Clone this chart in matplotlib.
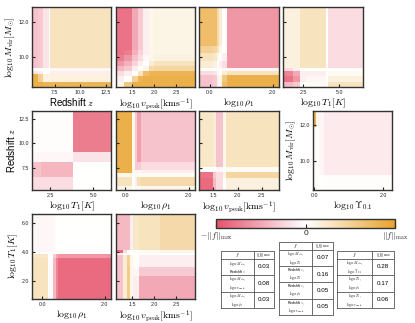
import numpy as np
import matplotlib
matplotlib.use("Agg")
import matplotlib.pyplot as plt
from matplotlib.colors import LinearSegmentedColormap
from matplotlib.ticker import FormatStrFormatter
import matplotlib.cm as cm

plt.rcParams['font.family'] = ['Liberation Sans', 'DejaVu Sans']
plt.rcParams['mathtext.fontset'] = 'cm'

# ---------------- data (normalised interaction strength, -1..1) ----------------
# Row 1: log10 Mvir vs Redshift z
mz_x = [5.3, 5.9, 6.4, 7.0, 7.1, 13.0]
mz_y = [8.3, 8.6, 9.05, 9.2, 9.4, 12.83]
mz_z = [[0.85, 0.85, 0.8, 0.8, 0.8],
        [0.85, 0.5, 0.15, 0.1, 0.15],
        [-0.15, -0.1, 0.0, 0.0, -0.1],
        [0.0, 0.0, 0.0, 0.0, -0.05],
        [-0.35, -0.3, -0.15, 0.0, 0.3]]

# log10 Mvir vs log10 vpeak
mv_x = [1.12, 1.3, 1.5, 1.62, 1.75, 1.87, 2.0, 2.94]
mv_y = [8.3, 8.6, 8.9, 9.2, 9.5, 9.8, 10.1, 10.4, 12.83]
mv_z = [[0.1, 0.6, 0.85, 0.85, 0.85, 0.85, 0.85],
        [-0.1, 0.0, 0.5, 0.8, 0.85, 0.85, 0.85],
        [-0.2, -0.1, 0.0, 0.3, 0.7, 0.8, 0.8],
        [-0.4, -0.3, -0.1, 0.0, 0.1, 0.4, 0.45],
        [-0.6, -0.45, -0.25, -0.1, 0.0, 0.2, 0.3],
        [-0.75, -0.6, -0.35, -0.2, -0.05, 0.1, 0.15],
        [-0.8, -0.75, -0.45, -0.25, -0.1, 0.1, 0.12],
        [-0.8, -0.8, -0.5, -0.3, -0.1, 0.1, 0.12]]

# log10 Mvir vs log10 rho1
mr_x = [-0.35, 0.1, 0.22, 0.3, 0.38, 0.53, 2.2]
mr_y = [8.3, 8.6, 9.0, 9.2, 9.4, 9.8, 10.2, 10.6, 12.83]
mr_z = [[-0.35, -0.3, -0.1, 0.1, 0.7, 0.85],
        [-0.35, -0.3, -0.1, 0.1, 0.6, 0.85],
        [-0.2, -0.15, -0.05, 0.0, 0.2, 0.3],
        [0.0, 0.0, -0.05, 0.0, -0.05, -0.05],
        [0.2, 0.15, 0.0, -0.1, -0.2, -0.6],
        [0.3, 0.25, 0.1, 0.0, -0.1, -0.6],
        [0.5, 0.45, 0.3, 0.1, 0.0, -0.6],
        [0.7, 0.7, 0.4, 0.2, 0.0, -0.6]]

# log10 Mvir vs log10 T1
mt_x = [1.1, 1.8, 2.27, 2.7, 4.1, 4.2, 6.65]
mt_y = [8.3, 8.6, 8.9, 9.2, 9.4, 12.83]
mt_z = [[-0.4, -0.3, 0.0, 0.05, 0.0, 0.3],
        [-0.8, -0.6, -0.1, -0.05, 0.0, 0.15],
        [-0.7, -0.5, -0.1, -0.1, 0.0, 0.05],
        [-0.2, -0.1, 0.0, 0.0, 0.0, 0.0],
        [0.15, 0.15, 0.3, 0.3, 0.0, -0.2]]

# Row 2: Redshift z vs log10 T1
zt_x = [1.46, 2.0, 3.81, 6.02]
zt_y = [5.2, 6.5, 8.1, 9.1, 13.3]
zt_z = [[-0.2, -0.2, 0.0],
        [-0.35, -0.42, 0.0],
        [-0.05, -0.05, -0.15],
        [-0.02, -0.02, -0.75]]

# Redshift z vs log10 rho1
zr_x = [-0.3, 0.21, 0.3, 0.37, 0.5, 2.2]
zr_y = [5.2, 5.6, 6.5, 6.9, 7.2, 8.1, 13.3]
zr_z = [[0.1, 0.0, -0.05, 0.05, 0.1],
        [0.3, 0.0, -0.1, 0.35, 0.4],
        [0.1, 0.0, -0.05, 0.05, 0.05],
        [0.85, 0.1, -0.05, -0.05, -0.1],
        [0.85, 0.1, -0.3, -0.3, -0.2],
        [0.85, 0.1, -0.3, -0.55, -0.35]]

# Redshift z vs log10 vpeak
zv_x = [1.2, 1.5, 1.55, 1.7, 1.75, 2.86]
zv_y = [5.2, 6.4, 7.06, 7.57, 13.3]
zv_z = [[-0.85, -0.4, -0.2, 0.0, 0.15],
        [-0.8, -0.3, -0.2, 0.1, 0.45],
        [0.0, 0.0, -0.05, 0.0, 0.05],
        [0.25, 0.2, -0.35, 0.1, 0.3]]

# log10 Mvir vs log10 Upsilon_0.1
mu_x = [-0.03, 0.06, 0.15, 0.3, 2.25]
mu_y = [8.36, 9.2, 11.9, 12.78]
mu_z = [[0.05, 0.02, 0.0, 0.02],
        [0.05, 0.0, -0.05, -0.12],
        [0.8, 0.1, -0.05, -0.12]]

# Row 3: log10 T1 vs log10 rho1
tr_x = [-0.33, 0.19, 0.35, 0.43, 0.51, 2.2]
tr_y = [0.78, 3.6, 3.88, 4.04, 6.64]
tr_z = [[0.3, 0.0, -0.4, -0.7, -0.85],
        [0.25, 0.0, -0.3, -0.5, -0.6],
        [0.0, 0.0, 0.0, 0.0, 0.0],
        [-0.05, -0.05, -0.03, 0.0, 0.0]]

# log10 T1 vs log10 vpeak
tv_x = [1.12, 1.29, 1.37, 1.45, 1.52, 1.64, 2.14, 2.94]
tv_y = [0.78, 2.4, 3.0, 3.8, 3.95, 4.15, 6.64]
tv_z = [[-0.35, 0.2, 0.55, 0.1, -0.1, -0.5, -0.5],
        [-0.35, 0.2, 0.55, 0.1, -0.05, -0.3, -0.3],
        [-0.35, 0.2, 0.5, 0.1, 0.0, -0.1, -0.1],
        [-0.1, 0.0, 0.0, 0.0, 0.0, 0.0, 0.0],
        [-0.85, -0.2, 0.0, 0.0, 0.0, 0.05, 0.1],
        [-0.4, -0.4, -0.4, -0.1, 0.25, 0.3, 0.4]]

# tables
tab1_f = [r"$\log_{10}M_{\rm vir}$," + "\nRedshift $z$",
          r"$\log_{10}M_{\rm vir}$," + "\n" + r"$\log_{10}v_{\rm peak}$",
          r"$\log_{10}M_{\rm vir}$," + "\n" + r"$\log_{10}\rho_1$"]
tab1_v = ["0.03", "0.08", "0.03"]
tab2_f = [r"$\log_{10}M_{\rm vir}$," + "\n" + r"$\log_{10}T_1$",
          "Redshift $z$,\n" + r"$\log_{10}T_1$",
          "Redshift $z$,\n" + r"$\log_{10}\rho_1$",
          "Redshift $z$,\n" + r"$\log_{10}v_{\rm peak}$"]
tab2_v = ["0.07", "0.16", "0.05", "0.05"]
tab3_f = [r"$\log_{10}M_{\rm vir}$," + "\n" + r"$\log_{10}\Upsilon_{0.1}$",
          r"$\log_{10}T_1$," + "\n" + r"$\log_{10}\rho_1$",
          r"$\log_{10}T_1$," + "\n" + r"$\log_{10}v_{\rm peak}$"]
tab3_v = ["0.28", "0.17", "0.06"]

# labels
L_M = r"$\log_{10}M_{\rm vir}[M_{\odot}]$"
L_Z = "Redshift $z$"
L_V = r"$\log_{10}v_{\rm peak}[{\rm kms}^{-1}]$"
L_R = r"$\log_{10}\rho_1$"
L_T = r"$\log_{10}T_1[K]$"
L_U = r"$\log_{10}\Upsilon_{0.1}$"

# ---------------- figure ----------------
W, H = 415, 323
fig = plt.figure(figsize=(W / 100, H / 100), dpi=100)
cmap = LinearSegmentedColormap.from_list("pw", ["#e6516a", "#ffffff", "#e9a22c"])


def px_axes(x0, y0, x1, y1):
    return fig.add_axes([x0 / W, 1 - y1 / H, (x1 - x0) / W, (y1 - y0) / H])


def panel(box, xe, ye, z, xt, yt, xl, yl=None, ylab=False):
    ax = px_axes(*box)
    ax.pcolormesh(xe, ye, np.array(z), cmap=cmap, vmin=-1, vmax=1,
                  shading='flat', edgecolors='none', antialiased=False)
    ax.set_xlim(xe[0], xe[-1])
    ax.set_ylim(ye[0], ye[-1])
    ax.set_xticks(xt)
    ax.set_yticks(yt)
    ax.xaxis.set_major_formatter(FormatStrFormatter('%.1f'))
    ax.yaxis.set_major_formatter(FormatStrFormatter('%.1f'))
    ax.tick_params(direction='in', length=2.5, width=0.8, labelsize=3.8,
                   pad=2, colors='#222222')
    if not ylab:
        ax.tick_params(axis='y', labelleft=False)
    for s in ax.spines.values():
        s.set_color('#333333')
        s.set_linewidth(1.0)
    ax.set_xlabel(xl, fontsize=7, labelpad=1)
    if yl:
        ax.set_ylabel(yl, fontsize=7, labelpad=1)
    return ax


# row 1
panel((32, 7, 111, 87), mz_x, mz_y, mz_z, [7.5, 10, 12.5], [10, 12], L_Z, L_M, True)
panel((116, 7, 195, 87), mv_x, mv_y, mv_z, [1.5, 2.0, 2.5], [10, 12], L_V)
panel((199, 7, 279, 87), mr_x, mr_y, mr_z, [0, 2], [10, 12], L_R)
panel((283, 7, 363, 87), mt_x, mt_y, mt_z, [2.5, 5.0], [10, 12], L_T)
# row 2
panel((32, 111, 111, 190), zt_x, zt_y, zt_z, [2.5, 5.0], [7.5, 10, 12.5], L_T, L_Z, True)
panel((116, 111, 195, 190), zr_x, zr_y, zr_z, [0, 2], [7.5, 10, 12.5], L_R)
panel((199, 111, 279, 190), zv_x, zv_y, zv_z, [1.5, 2.0, 2.5], [7.5, 10, 12.5], L_V)
panel((313, 111, 392, 190), mu_x, mu_y, mu_z, [0, 2], [10, 12], L_U, L_M, True)
# row 3
panel((32, 214, 111, 299), tr_x, tr_y, tr_z, [0, 2], [2, 4, 6], L_R, L_T, True)
panel((116, 214, 195, 299), tv_x, tv_y, tv_z, [1.5, 2.0, 2.5], [2, 4, 6], L_V)

# colorbar
cax = px_axes(216, 219, 395, 228)
sm = cm.ScalarMappable(cmap=cmap, norm=plt.Normalize(-1, 1))
cb = fig.colorbar(sm, cax=cax, orientation='horizontal', ticks=[-1, 0, 1])
cb.ax.set_xticklabels([r"$-||f||_{\rm max}$", "0", r"$||f||_{\rm max}$"])
cb.ax.tick_params(direction='in', length=3, width=0.8, labelsize=6, pad=1.5,
                  colors='#222222')
cb.outline.set_edgecolor('#333333')
cb.outline.set_linewidth(1.0)


def table(box, fl, vl):
    ax = px_axes(*box)
    ax.set_xlim(0, 1)
    ax.set_ylim(0, 1)
    ax.axis('off')
    n = len(fl)
    hfrac = 7.5 / (box[3] - box[1])
    rowh = (1 - hfrac) / n
    cx = 0.62
    lc = '#555555'
    lw = 0.6
    ax.plot([0, 1, 1, 0, 0], [0, 0, 1, 1, 0], color=lc, lw=lw, clip_on=False)
    ax.plot([cx, cx], [0, 1], color=lc, lw=lw)
    ax.plot([0, 1], [1 - hfrac] * 2, color=lc, lw=lw)
    for i in range(1, n):
        y = 1 - hfrac - i * rowh
        ax.plot([0, 1], [y, y], color=lc, lw=lw)
    ax.text(cx / 2, 1 - hfrac / 2, "$f$", ha='center', va='center', fontsize=3.8)
    ax.text((1 + cx) / 2, 1 - hfrac / 2, r"$||f||_{\rm max}$", ha='center',
            va='center', fontsize=3.2)
    for i, (f, v) in enumerate(zip(fl, vl)):
        yc = 1 - hfrac - (i + 0.5) * rowh
        ax.text(cx / 2, yc, f, ha='center', va='center', fontsize=2.5,
                linespacing=1.0)
        ax.text((1 + cx) / 2, yc, v, ha='center', va='center', fontsize=4.5)


table((221, 251, 274, 308), tab1_f, tab1_v)
table((279, 242, 333, 315), tab2_f, tab2_v)
table((337, 251, 394, 308), tab3_f, tab3_v)

fig.savefig("out.png", dpi=100)
